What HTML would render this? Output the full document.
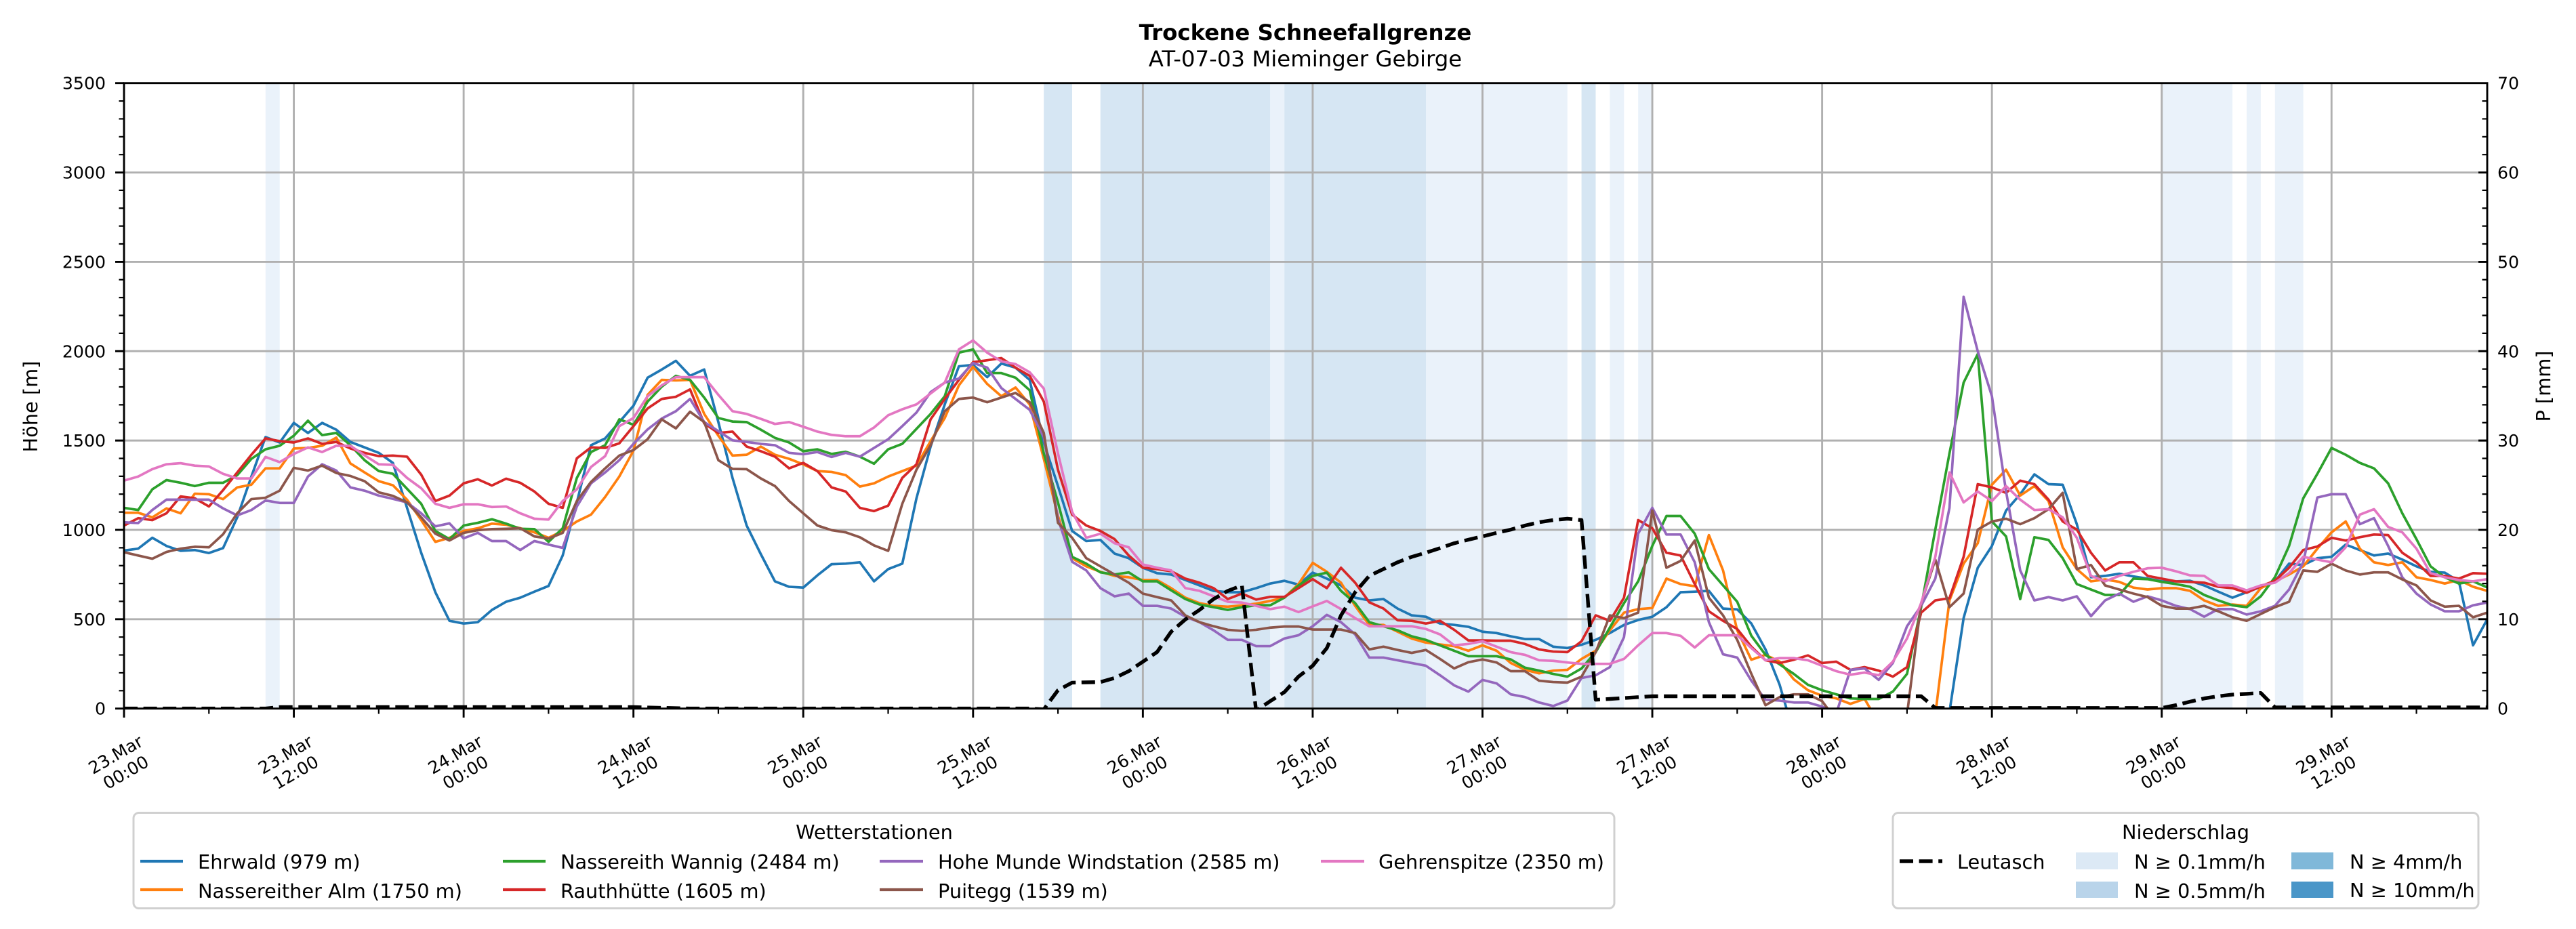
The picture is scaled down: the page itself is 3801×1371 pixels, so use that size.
<!DOCTYPE html>
<html><head><meta charset="utf-8"><style>
html,body{margin:0;padding:0;background:#fff;}
svg{display:block;}
text{font-family:"DejaVu Sans","Liberation Sans",sans-serif;fill:#000;}
</style></head><body>
<svg width="3801" height="1371" viewBox="0 0 3801 1371" xmlns="http://www.w3.org/2000/svg">
<defs><clipPath id="pc"><rect x="183" y="122.7" width="3487" height="923"/></clipPath></defs>
<rect x="0" y="0" width="3801" height="1371" fill="#fff"/>

<!-- titles -->
<text x="1926" y="59" font-size="32.4" font-weight="bold" text-anchor="middle">Trockene Schneefallgrenze</text>
<text x="1926" y="98" font-size="32.4" text-anchor="middle">AT-07-03 Mieminger Gebirge</text>

<!-- precipitation bands -->
<g>
<rect x="391.8" y="122.7" width="20.9" height="923" fill="#eaf2fa"/>
<rect x="1540.2" y="122.7" width="41.8" height="923" fill="#d6e6f3"/>
<rect x="1623.7" y="122.7" width="250.6" height="923" fill="#d6e6f3"/>
<rect x="1874.3" y="122.7" width="20.9" height="923" fill="#eaf2fa"/>
<rect x="1895.2" y="122.7" width="208.8" height="923" fill="#d6e6f3"/>
<rect x="2104" y="122.7" width="208.8" height="923" fill="#eaf2fa"/>
<rect x="2333.6" y="122.7" width="20.9" height="923" fill="#d6e6f3"/>
<rect x="2375.4" y="122.7" width="20.9" height="923" fill="#eaf2fa"/>
<rect x="2417.2" y="122.7" width="20.9" height="923" fill="#eaf2fa"/>
<rect x="3189.7" y="122.7" width="104.4" height="923" fill="#eaf2fa"/>
<rect x="3315" y="122.7" width="20.9" height="923" fill="#eaf2fa"/>
<rect x="3356.8" y="122.7" width="41.8" height="923" fill="#eaf2fa"/>
</g>

<!-- grid -->
<g stroke="#b0b0b0" stroke-width="2.9">
<line x1="433.56" y1="122.7" x2="433.56" y2="1045.7"/>
<line x1="684.12" y1="122.7" x2="684.12" y2="1045.7"/>
<line x1="934.68" y1="122.7" x2="934.68" y2="1045.7"/>
<line x1="1185.24" y1="122.7" x2="1185.24" y2="1045.7"/>
<line x1="1435.8" y1="122.7" x2="1435.8" y2="1045.7"/>
<line x1="1686.36" y1="122.7" x2="1686.36" y2="1045.7"/>
<line x1="1936.92" y1="122.7" x2="1936.92" y2="1045.7"/>
<line x1="2187.48" y1="122.7" x2="2187.48" y2="1045.7"/>
<line x1="2438.04" y1="122.7" x2="2438.04" y2="1045.7"/>
<line x1="2688.6" y1="122.7" x2="2688.6" y2="1045.7"/>
<line x1="2939.16" y1="122.7" x2="2939.16" y2="1045.7"/>
<line x1="3189.72" y1="122.7" x2="3189.72" y2="1045.7"/>
<line x1="3440.28" y1="122.7" x2="3440.28" y2="1045.7"/>
<line x1="183" y1="913.84" x2="3670" y2="913.84"/>
<line x1="183" y1="781.98" x2="3670" y2="781.98"/>
<line x1="183" y1="650.12" x2="3670" y2="650.12"/>
<line x1="183" y1="518.26" x2="3670" y2="518.26"/>
<line x1="183" y1="386.4" x2="3670" y2="386.4"/>
<line x1="183" y1="254.54" x2="3670" y2="254.54"/>
</g>

<!-- series -->
<g clip-path="url(#pc)">
<g transform="translate(183,420) scale(20.88,0.40177)" fill="none" stroke-width="3.7" stroke-linejoin="round" stroke-linecap="butt">
<polyline vector-effect="non-scaling-stroke" stroke="#1f77b4" points="0,977 1,970 2,930 3,960 4,978 5,975 6,986 7,968 8,855 9,705 10,560 11,580 12,508 13,545 14,508 15,533 16,578 17,598 18,618 19,655 20,820 21,985 22,1130 23,1235 24,1245 25,1240 26,1195 27,1165 28,1150 29,1128 30,1107 31,995 32,800 33,590 34,565 35,505 36,445 37,342 38,312 39,280 40,335 41,312 42,505 43,710 44,885 45,990 46,1090 47,1110 48,1113 49,1068 50,1027 51,1025 52,1020 53,1090 54,1045 55,1025 56,785 57,595 58,440 59,300 60,295 61,340 62,290 63,305 64,350 65,580 66,740 67,905 68,942 69,938 70,988 71,1005 72,1040 73,1060 74,1065 75,1085 76,1105 77,1125 78,1130 79,1130 80,1115 81,1098 82,1088 83,1102 84,1058 85,1080 86,1105 87,1150 88,1160 89,1155 90,1190 91,1215 92,1220 93,1245 94,1250 95,1257 96,1275 97,1280 98,1292 99,1302 100,1302 101,1330 102,1335 103,1323 104,1305 105,1280 106,1250 107,1232 108,1220 109,1185 110,1130 111,1128 112,1125 113,1190 114,1193 115,1245 116,1340 117,1470 118,1650 127,1650 128,1660 129,1570 130,1225 131,1040 132,960 133,830 134,770 135,697 136,733 137,735 138,880 139,1075 140,1070 141,1062 142,1072 143,1080 144,1090 145,1090 146,1088 147,1105 148,1128 149,1150 150,1130 151,1110 152,1090 153,1025 154,1030 155,1005 156,1000 157,955 158,975 159,995 160,988 161,1010 162,1035 163,1055 164,1058 165,1090 166,1325 167,1230"/>
<polyline vector-effect="non-scaling-stroke" stroke="#ff7f0e" points="0,838 1,838 2,855 3,822 4,840 5,768 6,770 7,788 8,745 9,735 10,675 11,675 12,602 13,600 14,592 15,562 16,657 17,690 18,722 19,737 20,790 21,865 22,945 23,930 24,905 25,895 26,878 27,882 28,895 29,910 30,930 31,905 32,870 33,845 34,780 35,705 36,610 37,405 38,350 39,352 40,350 41,475 42,555 43,628 44,625 45,595 46,625 47,640 48,660 49,685 50,688 51,700 52,742 53,730 54,705 55,685 56,665 57,575 58,490 59,370 60,302 61,365 62,410 63,378 64,440 65,640 66,850 67,1005 68,1035 69,1055 70,1070 71,1075 72,1085 73,1085 74,1115 75,1150 76,1170 77,1180 78,1183 79,1178 80,1172 81,1162 82,1150 83,1100 84,1022 85,1055 86,1095 87,1180 88,1250 89,1250 90,1275 91,1300 92,1315 93,1322 94,1328 95,1345 96,1325 97,1345 98,1390 99,1415 100,1428 101,1418 102,1415 103,1375 104,1345 105,1270 106,1205 107,1192 108,1188 109,1080 110,1100 111,1108 112,920 113,1050 114,1270 115,1378 116,1360 117,1385 118,1450 119,1490 120,1510 121,1520 122,1540 123,1522 124,1610 127,1620 128,1580 129,1160 130,1025 131,950 132,735 133,680 134,775 135,740 136,795 137,965 138,1045 139,1090 140,1083 141,1092 142,1113 143,1120 144,1115 145,1115 146,1125 147,1160 148,1180 149,1175 150,1180 151,1115 152,1090 153,1065 154,1035 155,970 156,910 157,870 158,970 159,1020 160,1030 161,1020 162,1075 163,1085 164,1098 165,1085 166,1110 167,1125"/>
<polyline vector-effect="non-scaling-stroke" stroke="#2ca02c" points="0,820 1,828 2,752 3,718 4,728 5,740 6,728 7,728 8,700 9,640 10,605 11,592 12,555 13,500 14,553 15,545 16,590 17,645 18,685 19,695 20,750 21,805 22,905 23,935 24,885 25,875 26,862 27,878 28,897 29,898 30,945 31,895 32,710 33,615 34,590 35,495 36,515 37,430 38,375 39,335 40,350 41,415 42,490 43,503 44,505 45,533 46,563 47,580 48,612 49,605 50,622 51,614 52,632 53,658 54,605 55,585 56,530 57,475 58,410 59,250 60,238 61,325 62,325 63,342 64,388 65,620 66,800 67,1000 68,1025 69,1057 70,1065 71,1057 72,1090 73,1090 74,1123 75,1155 76,1175 77,1185 78,1195 79,1185 80,1178 81,1178 82,1150 83,1105 84,1070 85,1058 86,1125 87,1170 88,1240 89,1255 90,1270 91,1292 92,1305 93,1325 94,1345 95,1365 96,1365 97,1365 98,1377 99,1407 100,1418 101,1430 102,1440 103,1410 104,1350 105,1260 106,1170 107,1090 108,960 109,850 110,850 111,915 112,1045 113,1105 114,1165 115,1290 116,1360 117,1395 118,1430 119,1470 120,1490 121,1505 122,1520 123,1522 124,1522 125,1495 126,1430 127,1185 128,900 129,620 130,360 131,255 132,870 133,925 134,1155 135,928 136,938 137,1005 138,1100 139,1120 140,1140 141,1140 142,1080 143,1082 144,1092 145,1100 146,1110 147,1140 148,1160 149,1178 150,1185 151,1145 152,1075 153,960 154,785 155,695 156,600 157,625 158,655 159,675 160,730 161,840 162,935 163,1035 164,1075 165,1098 166,1090 167,1112"/>
<polyline vector-effect="non-scaling-stroke" stroke="#d62728" points="0,885 1,858 2,865 3,840 4,778 5,785 6,815 7,755 8,690 9,625 10,565 11,575 12,580 13,565 14,585 15,578 16,602 17,618 18,630 19,628 20,632 21,698 22,795 23,775 24,730 25,715 26,738 27,713 28,728 29,760 30,805 31,820 32,638 33,598 34,600 35,583 36,520 37,455 38,420 39,412 40,385 41,510 42,545 43,540 44,595 45,612 46,632 47,675 48,655 49,685 50,745 51,760 52,820 53,832 54,812 55,710 56,660 57,495 58,420 59,350 60,285 61,278 62,270 63,305 64,335 65,430 66,680 67,845 68,885 69,905 70,935 71,995 72,1040 73,1045 74,1053 75,1080 76,1095 77,1115 78,1155 79,1135 80,1157 81,1147 82,1147 83,1115 84,1082 85,1115 86,1040 87,1095 88,1167 89,1190 90,1233 91,1235 92,1245 93,1235 94,1268 95,1307 96,1307 97,1308 98,1308 99,1320 100,1340 101,1348 102,1350 103,1310 104,1215 105,1235 106,1150 107,865 108,895 109,985 110,995 111,1100 112,1200 113,1235 114,1265 115,1330 116,1380 117,1390 118,1378 119,1362 120,1390 121,1385 122,1415 123,1405 124,1418 125,1440 126,1405 127,1205 128,1160 129,1152 130,1000 131,733 132,745 133,765 134,720 135,733 136,790 137,870 138,900 139,985 140,1050 141,1020 142,1020 143,1070 144,1080 145,1090 146,1092 147,1095 148,1110 149,1115 150,1132 151,1108 152,1088 153,1040 154,975 155,962 156,930 157,940 158,928 159,918 160,920 161,985 162,1020 163,1070 164,1070 165,1080 166,1060 167,1062"/>
<polyline vector-effect="non-scaling-stroke" stroke="#9467bd" points="0,873 1,876 2,828 3,790 4,790 5,790 6,790 7,822 8,848 9,828 10,793 11,802 12,802 13,705 14,660 15,683 16,745 17,757 18,775 19,787 20,800 21,840 22,888 23,877 24,932 25,912 26,942 27,942 28,975 29,942 30,955 31,967 32,815 33,730 34,690 35,645 36,585 37,532 38,492 39,465 40,420 41,505 42,538 43,572 44,578 45,585 46,590 47,618 48,623 49,615 50,633 51,618 52,632 53,600 54,568 55,520 56,470 57,395 58,360 59,345 60,288 61,305 62,380 63,420 64,460 65,560 66,860 67,1018 68,1050 69,1115 70,1145 71,1135 72,1180 73,1180 74,1190 75,1220 76,1240 77,1270 78,1305 79,1305 80,1328 81,1328 82,1300 83,1288 84,1255 85,1213 86,1240 87,1285 88,1370 89,1370 90,1380 91,1390 92,1400 93,1435 94,1472 95,1495 96,1452 97,1465 98,1505 99,1515 100,1535 101,1548 102,1528 103,1445 104,1435 105,1405 106,1295 107,915 108,820 109,918 110,918 111,1020 112,1240 113,1358 114,1370 115,1455 116,1525 117,1528 118,1535 119,1535 120,1550 121,1575 122,1415 123,1410 124,1452 125,1390 126,1255 127,1180 128,1080 129,820 130,45 131,245 132,410 133,760 134,1050 135,1160 136,1148 137,1160 138,1145 139,1218 140,1160 141,1135 142,1165 143,1145 144,1160 145,1180 146,1192 147,1220 148,1192 149,1192 150,1212 151,1200 152,1180 153,1120 154,1020 155,782 156,770 157,770 158,880 159,858 160,960 161,1075 162,1135 163,1175 164,1200 165,1200 166,1178 167,1168"/>
<polyline vector-effect="non-scaling-stroke" stroke="#8c564b" points="0,983 1,995 2,1007 3,982 4,970 5,963 6,965 7,917 8,840 9,788 10,783 11,757 12,673 13,683 14,665 15,692 16,703 17,722 18,763 19,776 20,800 21,855 22,915 23,940 24,912 25,902 26,898 27,897 28,895 29,925 30,933 31,912 32,795 33,725 34,675 35,628 36,608 37,568 38,495 39,528 40,467 41,505 42,645 43,677 44,678 45,712 46,740 47,795 48,840 49,885 50,902 51,910 52,928 53,958 54,978 55,805 56,680 57,590 58,465 59,420 60,415 61,432 62,415 63,398 64,432 65,545 66,875 67,930 68,1005 69,1035 70,1065 71,1095 72,1135 73,1148 74,1160 75,1215 76,1240 77,1255 78,1268 79,1272 80,1268 81,1260 82,1256 83,1256 84,1267 85,1267 86,1267 87,1280 88,1340 89,1330 90,1342 91,1353 92,1342 93,1375 94,1410 95,1387 96,1377 97,1388 98,1420 99,1420 100,1455 101,1460 102,1462 103,1440 104,1350 105,1215 106,1225 107,1205 108,830 109,1040 110,1015 111,940 112,1150 113,1215 114,1305 115,1430 116,1545 117,1515 118,1505 119,1505 120,1530 121,1600 125,1610 126,1580 127,1170 128,1010 129,1185 130,1135 131,900 132,870 133,860 134,880 135,858 136,825 137,765 138,1045 139,1030 140,1105 141,1120 142,1135 143,1148 144,1180 145,1190 146,1190 147,1180 148,1200 149,1222 150,1235 151,1210 152,1185 153,1165 154,1050 155,1055 156,1025 157,1050 158,1065 159,1057 160,1057 161,1083 162,1105 163,1160 164,1183 165,1180 166,1222 167,1205"/>
<polyline vector-effect="non-scaling-stroke" stroke="#e377c2" points="0,720 1,705 2,678 3,660 4,656 5,665 6,668 7,695 8,712 9,712 10,633 11,652 12,622 13,598 14,615 15,592 16,592 17,627 18,660 19,662 20,710 21,748 22,805 23,820 24,807 25,807 26,817 27,815 28,840 29,860 30,863 31,795 32,752 33,670 34,630 35,520 36,490 37,410 38,370 39,340 40,340 41,340 42,405 43,465 44,475 45,493 46,512 47,505 48,522 49,540 50,552 51,557 52,557 53,525 54,480 55,458 56,440 57,400 58,360 59,238 60,205 61,250 62,282 63,292 64,322 65,382 66,620 67,835 68,930 69,915 70,950 71,965 72,1028 73,1040 74,1050 75,1115 76,1125 77,1145 78,1165 79,1168 80,1180 81,1192 82,1183 83,1203 84,1182 85,1162 86,1192 87,1225 88,1255 89,1255 90,1255 91,1255 92,1265 93,1285 94,1325 95,1320 96,1310 97,1330 98,1350 99,1360 100,1380 101,1382 102,1388 103,1393 104,1393 105,1393 106,1375 107,1325 108,1280 109,1280 110,1290 111,1333 112,1288 113,1288 114,1288 115,1335 116,1380 117,1372 118,1372 119,1380 120,1400 121,1420 122,1433 123,1425 124,1435 125,1385 126,1300 127,1170 128,1000 129,690 130,800 131,760 132,795 133,740 134,790 135,828 136,825 137,855 138,930 139,1070 140,1090 141,1070 142,1055 143,1042 144,1040 145,1053 146,1068 147,1070 148,1105 149,1105 150,1123 151,1105 152,1095 153,1060 154,1000 155,1010 156,1020 157,965 158,845 159,825 160,890 161,910 162,970 163,1060 164,1075 165,1085 166,1090 167,1082"/>
</g>
<path fill="none" stroke="#000" stroke-width="5.4" stroke-dasharray="20,8.6" stroke-linejoin="round" d="M183,1045.6 L391.8,1045.6 L412.7,1043.5 L934.7,1043.5 L1018.2,1045.6 L1519.3,1045.6 L1540.2,1046.8 L1561.1,1018.6 L1582,1007.4 L1623.7,1006.6 L1644.6,1000.6 L1665.5,990.5 L1686.4,976.5 L1707.2,962.4 L1728.1,932.3 L1749,914.2 L1769.9,900.1 L1790.8,884 L1811.6,872 L1832.5,864 L1853.4,1048.8 L1874.3,1034.7 L1895.2,1021.4 L1916,998.5 L1936.9,982.5 L1957.8,956.4 L1978.7,908.2 L1999.6,874 L2020.4,849.9 L2041.3,839.8 L2062.2,829.8 L2083.1,821.8 L2104,815.7 L2124.8,808.9 L2145.7,801.7 L2166.6,796.5 L2187.5,791.6 L2208.4,786.4 L2229.2,781.6 L2250.1,775.6 L2271,770.7 L2291.9,767.5 L2312.8,765.5 L2333.6,767.5 L2354.5,1032.7 L2375.4,1031.5 L2438,1027.5 L2834.8,1027.5 L2855.6,1044.8 L3189.7,1044.8 L3210.6,1040.7 L3231.5,1035.5 L3252.4,1030.7 L3273.2,1027.5 L3294.1,1025.1 L3315,1023.9 L3335.9,1022.7 L3356.8,1043.9 L3670,1043.9"/>
</g>

<!-- spines -->
<rect x="183" y="122.7" width="3487" height="923" fill="none" stroke="#000" stroke-width="2.9"/>

<!-- ticks -->
<path stroke="#000" stroke-width="2.9" fill="none" d="M170,1045.7H183M170,913.84H183M170,781.98H183M170,650.12H183M170,518.26H183M170,386.4H183M170,254.54H183M170,122.7H183
M3657,913.84H3670M3657,781.98H3670M3657,650.12H3670M3657,518.26H3670M3657,386.4H3670M3657,254.54H3670
M183,1046V1059M433.56,1046V1059M684.12,1046V1059M934.68,1046V1059M1185.24,1046V1059M1435.8,1046V1059M1686.36,1046V1059M1936.92,1046V1059M2187.48,1046V1059M2438.04,1046V1059M2688.6,1046V1059M2939.16,1046V1059M3189.72,1046V1059M3440.28,1046V1059"/>
<path stroke="#000" stroke-width="2.2" fill="none" d="M175.5,1019.33H183M175.5,992.96H183M175.5,966.58H183M175.5,940.21H183M175.5,887.47H183M175.5,861.1H183M175.5,834.72H183M175.5,808.35H183M175.5,755.61H183M175.5,729.24H183M175.5,702.86H183M175.5,676.49H183M175.5,623.75H183M175.5,597.38H183M175.5,571H183M175.5,544.63H183M175.5,491.89H183M175.5,465.52H183M175.5,439.14H183M175.5,412.77H183M175.5,360.03H183M175.5,333.66H183M175.5,307.28H183M175.5,280.91H183M175.5,228.17H183M175.5,201.8H183M175.5,175.42H183M175.5,149.05H183
M3662.5,1019.33H3670M3662.5,992.96H3670M3662.5,966.58H3670M3662.5,940.21H3670M3662.5,887.47H3670M3662.5,861.1H3670M3662.5,834.72H3670M3662.5,808.35H3670M3662.5,755.61H3670M3662.5,729.24H3670M3662.5,702.86H3670M3662.5,676.49H3670M3662.5,623.75H3670M3662.5,597.38H3670M3662.5,571H3670M3662.5,544.63H3670M3662.5,491.89H3670M3662.5,465.52H3670M3662.5,439.14H3670M3662.5,412.77H3670M3662.5,360.03H3670M3662.5,333.66H3670M3662.5,307.28H3670M3662.5,280.91H3670M3662.5,228.17H3670M3662.5,201.8H3670M3662.5,175.42H3670M3662.5,149.05H3670
M308.28,1046V1053.5M558.84,1046V1053.5M809.4,1046V1053.5M1059.96,1046V1053.5M1310.52,1046V1053.5M1561.08,1046V1053.5M1811.64,1046V1053.5M2062.2,1046V1053.5M2312.76,1046V1053.5M2563.32,1046V1053.5M2813.88,1046V1053.5M3064.44,1046V1053.5M3315,1046V1053.5M3565.56,1046V1053.5"/>

<!-- y tick labels -->
<g font-size="25.2" text-anchor="end">
<text x="156" y="1054.7">0</text>
<text x="156" y="922.8">500</text>
<text x="156" y="791">1000</text>
<text x="156" y="659.1">1500</text>
<text x="156" y="527.3">2000</text>
<text x="156" y="395.4">2500</text>
<text x="156" y="263.5">3000</text>
<text x="156" y="131.7">3500</text>
</g>
<g font-size="25.2" text-anchor="start">
<text x="3685" y="1054.7">0</text>
<text x="3685" y="922.8">10</text>
<text x="3685" y="791">20</text>
<text x="3685" y="659.1">30</text>
<text x="3685" y="527.3">40</text>
<text x="3685" y="395.4">50</text>
<text x="3685" y="263.5">60</text>
<text x="3685" y="131.7">70</text>
</g>
<text font-size="28.8" text-anchor="middle" transform="translate(55,600) rotate(-90)">Höhe [m]</text>
<text font-size="28.8" text-anchor="middle" transform="translate(3763,570) rotate(-90)">P [mm]</text>

<!-- x tick labels -->
<g font-size="25.2" text-anchor="middle">
<text transform="translate(178,1126.5) rotate(-30)"><tspan x="0" y="-6">23.Mar</tspan><tspan x="0" y="24.2">00:00</tspan></text>
<text transform="translate(428.56,1126.5) rotate(-30)"><tspan x="0" y="-6">23.Mar</tspan><tspan x="0" y="24.2">12:00</tspan></text>
<text transform="translate(679.12,1126.5) rotate(-30)"><tspan x="0" y="-6">24.Mar</tspan><tspan x="0" y="24.2">00:00</tspan></text>
<text transform="translate(929.68,1126.5) rotate(-30)"><tspan x="0" y="-6">24.Mar</tspan><tspan x="0" y="24.2">12:00</tspan></text>
<text transform="translate(1180.24,1126.5) rotate(-30)"><tspan x="0" y="-6">25.Mar</tspan><tspan x="0" y="24.2">00:00</tspan></text>
<text transform="translate(1430.8,1126.5) rotate(-30)"><tspan x="0" y="-6">25.Mar</tspan><tspan x="0" y="24.2">12:00</tspan></text>
<text transform="translate(1681.36,1126.5) rotate(-30)"><tspan x="0" y="-6">26.Mar</tspan><tspan x="0" y="24.2">00:00</tspan></text>
<text transform="translate(1931.92,1126.5) rotate(-30)"><tspan x="0" y="-6">26.Mar</tspan><tspan x="0" y="24.2">12:00</tspan></text>
<text transform="translate(2182.48,1126.5) rotate(-30)"><tspan x="0" y="-6">27.Mar</tspan><tspan x="0" y="24.2">00:00</tspan></text>
<text transform="translate(2433.04,1126.5) rotate(-30)"><tspan x="0" y="-6">27.Mar</tspan><tspan x="0" y="24.2">12:00</tspan></text>
<text transform="translate(2683.6,1126.5) rotate(-30)"><tspan x="0" y="-6">28.Mar</tspan><tspan x="0" y="24.2">00:00</tspan></text>
<text transform="translate(2934.16,1126.5) rotate(-30)"><tspan x="0" y="-6">28.Mar</tspan><tspan x="0" y="24.2">12:00</tspan></text>
<text transform="translate(3184.72,1126.5) rotate(-30)"><tspan x="0" y="-6">29.Mar</tspan><tspan x="0" y="24.2">00:00</tspan></text>
<text transform="translate(3435.28,1126.5) rotate(-30)"><tspan x="0" y="-6">29.Mar</tspan><tspan x="0" y="24.2">12:00</tspan></text>
</g>

<!-- legend: Wetterstationen -->
<rect x="197" y="1199.5" width="2185" height="141" rx="8" ry="8" fill="#fff" stroke="#d0d0d0" stroke-width="3"/>
<text x="1290" y="1238" font-size="28.8" text-anchor="middle">Wetterstationen</text>
<g stroke-width="4.2">
<line x1="207" y1="1271" x2="270" y2="1271" stroke="#1f77b4"/>
<line x1="207" y1="1313" x2="270" y2="1313" stroke="#ff7f0e"/>
<line x1="742" y1="1271" x2="805" y2="1271" stroke="#2ca02c"/>
<line x1="742" y1="1313" x2="805" y2="1313" stroke="#d62728"/>
<line x1="1298" y1="1271" x2="1362" y2="1271" stroke="#9467bd"/>
<line x1="1298" y1="1313" x2="1362" y2="1313" stroke="#8c564b"/>
<line x1="1949" y1="1271" x2="2013" y2="1271" stroke="#e377c2"/>
</g>
<g font-size="28.8">
<text x="292" y="1282">Ehrwald (979 m)</text>
<text x="292" y="1325">Nassereither Alm (1750 m)</text>
<text x="827" y="1282">Nassereith Wannig (2484 m)</text>
<text x="827" y="1325">Rauthhütte (1605 m)</text>
<text x="1384" y="1282">Hohe Munde Windstation (2585 m)</text>
<text x="1384" y="1325">Puitegg (1539 m)</text>
<text x="2034" y="1282">Gehrenspitze (2350 m)</text>
</g>

<!-- legend: Niederschlag -->
<rect x="2793" y="1199.5" width="864" height="141" rx="8" ry="8" fill="#fff" stroke="#d0d0d0" stroke-width="3"/>
<text x="3225" y="1238" font-size="28.8" text-anchor="middle">Niederschlag</text>
<line x1="2803" y1="1271" x2="2866" y2="1271" stroke="#000" stroke-width="5.4" stroke-dasharray="20,8.6"/>
<rect x="3063" y="1258" width="62" height="25" fill="#dce9f5"/>
<rect x="3063" y="1301" width="62" height="24" fill="#b9d4ea"/>
<rect x="3381" y="1258" width="62" height="25" fill="#80b8d9"/>
<rect x="3381" y="1301" width="62" height="24" fill="#4a96c8"/>
<g font-size="28.8">
<text x="2888" y="1282">Leutasch</text>
<text x="3149" y="1282">N ≥ 0.1mm/h</text>
<text x="3149" y="1325">N ≥ 0.5mm/h</text>
<text x="3467" y="1282">N ≥ 4mm/h</text>
<text x="3467" y="1324">N ≥ 10mm/h</text>
</g>
</svg>
</body></html>
